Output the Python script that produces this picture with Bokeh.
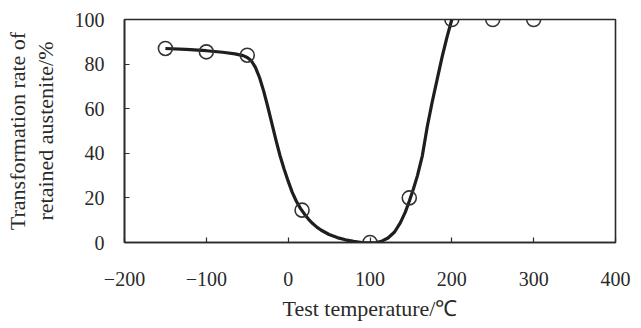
from bokeh.plotting import figure
from bokeh.models import Range1d, FixedTicker
from bokeh.embed import file_html
from bokeh.resources import INLINE

# Measured points (Test temperature, transformation rate)
temp = [-150, -100, -50, 17, 100, 148, 200, 250, 300]
rate = [87, 85.5, 84, 14.5, 0, 20, 100, 100, 100]

# Smooth fitted curve
curve_temp = [-150, -125, -100, -80, -65, -55, -50, -45, -40, -35, -30, -25, -20, -15, -10, -5,
              0, 5, 10, 15, 20, 25, 30, 35, 40, 50, 60, 70, 80, 90, 100, 108, 115, 122, 130,
              137, 143, 148, 153, 158, 164, 170, 176, 182, 188, 194, 200]
curve_rate = [87, 86.6, 86, 85.3, 84.6, 83.8, 83, 81.5, 78.5, 74, 68, 61, 53.5, 46, 39, 33,
              27.5, 22.5, 18.5, 15.3, 12.7, 10.4, 8.5, 6.9, 5.6, 3.6, 2.2, 1.2, 0.5, 0.0, -0.2, 0.0, 0.7, 2, 4.7,
              8.8, 13.5, 18.5, 24, 30, 39, 52, 63, 73, 83, 92, 100]

x_ticks = [-200, -100, 0, 100, 200, 300, 400]
y_ticks = [0, 20, 40, 60, 80, 100]

FONT = "Liberation Serif"
INK = "#2a2a2a"

p = figure(width=641, height=328, output_backend="svg", toolbar_location=None,
           x_range=Range1d(-200, 400), y_range=Range1d(0, 100),
           min_border_left=124, min_border_right=26, min_border_top=19, min_border_bottom=86)
p.grid.visible = False
p.outline_line_color = INK
p.outline_line_width = 1.6
p.background_fill_color = "white"
p.border_fill_color = "white"

for ax in (p.xaxis[0], p.yaxis[0]):
    ax.axis_line_color = INK
    ax.axis_line_width = 1.6
    ax.major_tick_in = 5
    ax.major_tick_out = 0
    ax.minor_tick_line_color = None
    ax.major_tick_line_color = INK
    ax.major_tick_line_width = 1.2
    ax.major_label_text_font = FONT
    ax.major_label_text_font_size = "20px"
    ax.major_label_text_color = INK
    ax.axis_label_text_font = FONT
    ax.axis_label_text_font_size = "22px"
    ax.axis_label_text_font_style = "normal"
    ax.axis_label_text_color = INK
    ax.axis_label_text_line_height = 1.1

p.xaxis[0].ticker = FixedTicker(ticks=x_ticks)
p.yaxis[0].ticker = FixedTicker(ticks=y_ticks)
p.xaxis[0].major_label_overrides = {t: (("\u2212" + str(-t)) if t < 0 else str(t)) for t in x_ticks}
p.xaxis[0].major_label_standoff = 29
p.yaxis[0].major_label_standoff = 20
p.xaxis[0].axis_label = "Test temperature/\u2103"
p.xaxis[0].axis_label_standoff = 7
p.yaxis[0].axis_label = "Transformation rate of\nretained austenite/%"
p.yaxis[0].axis_label_standoff = 14

p.line(curve_temp, curve_rate, line_color="#1e1e1e", line_width=3.2, line_join="round")
p.scatter(temp, rate, size=14, marker="circle", fill_color=None, line_color="#333333", line_width=1.6)

open("out.html", "w").write(file_html(p, INLINE))
